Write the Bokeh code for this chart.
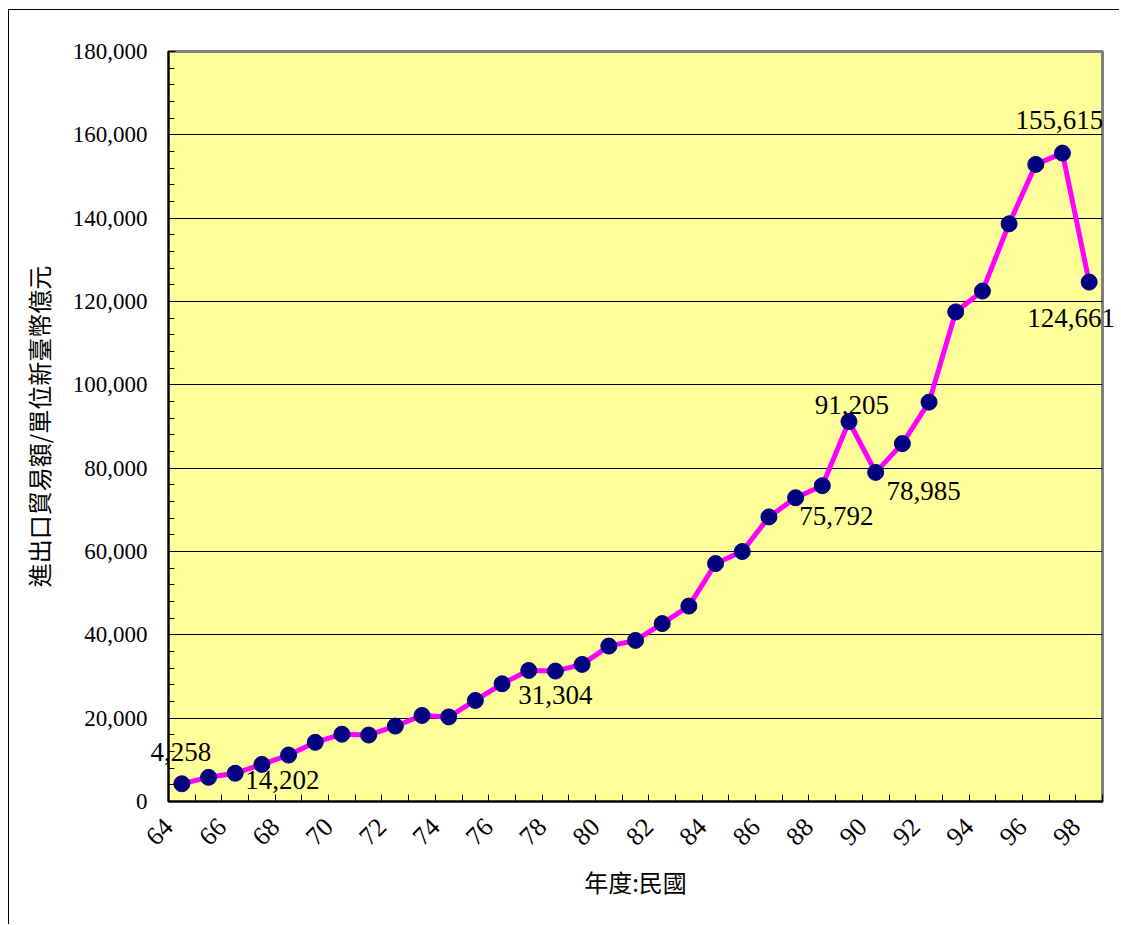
import math
from bokeh.plotting import figure
from bokeh.models import (FixedTicker, NumeralTickFormatter, Range1d, Label,
                          ColumnDataSource)
from bokeh.embed import file_html
from bokeh.resources import INLINE

# ---------------- data ----------------
years = list(range(64, 99))
trade = [4258, 5800, 6780, 8900, 11150, 14202, 16150, 15950, 18100, 20650,
         20300, 24250, 28250, 31450, 31304, 32900, 37300, 38650, 42700, 46900,
         57100, 60000, 68300, 72900, 75792, 91205, 78985, 85900, 95850, 117500,
         122500, 138650, 152900, 155615, 124661]

labeled_years = [64, 69, 78, 88, 89, 90, 97, 98]
y_ticks = list(range(0, 180001, 20000))
y_minor = list(range(0, 180001, 4000))

x_title = "年度:民國"
y_title = "進出口貿易額/單位新臺幣億元"

# label placement (screen pixel offsets, layout only; dy positive = up)
label_dx = [-1, -33, 0, 14, 3, 48, -3, -18]
label_dy = [32, -38, -24, -30, 16, -19, 33, -36]
# labels that overhang the plot frame go to a side panel (no frame clipping)
label_place = ["above", "center", "center", "center", "center", "center",
               "center", "below"]

# ---------------- figure ----------------
p = figure(width=1111, height=915, output_backend="svg", toolbar_location=None,
           x_range=Range1d(years[0] - 0.5, years[-1] + 0.5),
           y_range=Range1d(0, 180000),
           min_border_left=159, min_border_right=18,
           min_border_top=41, min_border_bottom=124)
p.styles = {"border-left": "1px solid black", "border-top": "1px solid black",
            "margin-left": "8px", "margin-top": "9px"}

p.background_fill_color = "#FFFF99"
p.border_fill_color = "white"
p.outline_line_color = "#808080"
p.outline_line_width = 3

# grid
p.xgrid.visible = False
p.ygrid.ticker = FixedTicker(ticks=y_ticks)
p.ygrid.grid_line_color = "#000000"
p.ygrid.grid_line_width = 1

# y axis
ya = p.yaxis[0]
ya.ticker = FixedTicker(ticks=y_ticks, minor_ticks=y_minor)
ya.formatter = NumeralTickFormatter(format="0,0")
ya.axis_line_color = "black"
ya.axis_line_width = 2
ya.major_tick_in = 7
ya.major_tick_out = 0
ya.minor_tick_in = 6
ya.minor_tick_out = 0
ya.major_tick_line_color = "black"
ya.minor_tick_line_color = "black"
ya.major_label_text_font = "Liberation Serif"
ya.major_label_text_font_size = "23px"
ya.major_label_text_color = "black"
ya.major_label_standoff = 21
ya.axis_label = y_title
ya.axis_label_text_font = "Noto Sans CJK TC"
ya.axis_label_text_font_size = "24px"
ya.axis_label_text_font_style = "normal"
ya.axis_label_text_color = "black"
ya.axis_label_standoff = 14

# x axis: tick marks at category boundaries, labels every other year
bounds = [y - 0.5 for y in years] + [years[-1] + 0.5]
overrides = {}
for b in bounds:
    yr = int(round(b + 0.5))
    overrides[b] = str(yr) if (yr % 2 == 0 and yr in years) else ""
xa = p.xaxis[0]
xa.ticker = FixedTicker(ticks=bounds, minor_ticks=[])
xa.major_label_overrides = overrides
xa.major_label_orientation = math.pi / 4
xa.axis_line_color = "black"
xa.axis_line_width = 2
xa.major_tick_in = 7
xa.major_tick_out = 0
xa.major_tick_line_color = "black"
xa.minor_tick_line_color = None
xa.major_label_text_font = "Liberation Serif"
xa.major_label_text_font_size = "26px"
xa.major_label_text_color = "black"
xa.major_label_standoff = 21
xa.axis_label = x_title
xa.axis_label_text_font = "Noto Sans CJK TC"
xa.axis_label_text_font_size = "24px"
xa.axis_label_text_font_style = "normal"
xa.axis_label_text_color = "black"
xa.axis_label_standoff = 8

# series
src = ColumnDataSource(dict(x=years, y=trade))
p.line("x", "y", source=src, line_color="#FF00FF", line_width=5)
p.scatter("x", "y", source=src, size=16, marker="circle",
          fill_color="#000080", line_color="#000080")

# data labels
for yr, dx, dy, place in zip(labeled_years, label_dx, label_dy, label_place):
    v = trade[years.index(yr)]
    p.add_layout(Label(x=yr, y=v, text=f"{v:,}", x_offset=dx, y_offset=dy,
                       text_align="center", text_baseline="middle",
                       text_font="Liberation Serif", text_font_size="27px",
                       text_color="black"), place)

open("out.html", "w").write(file_html(p, INLINE))
